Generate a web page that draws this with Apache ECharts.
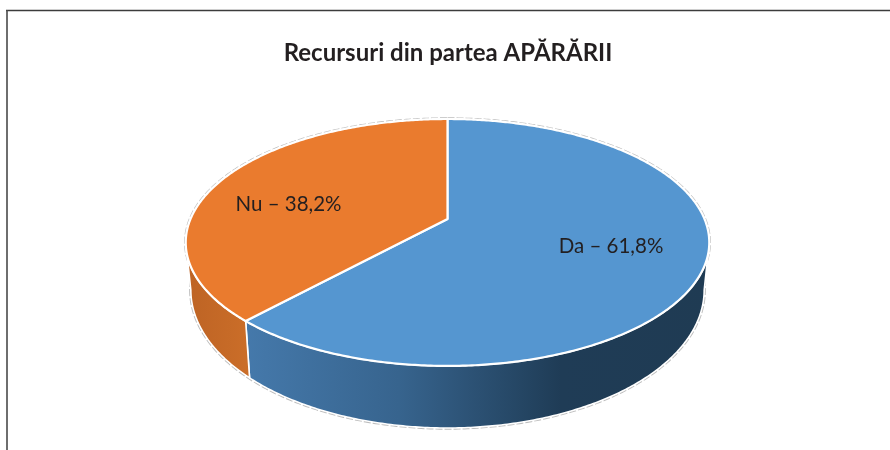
<!DOCTYPE html>
<html>
<head>
<meta charset="utf-8">
<style>html,body{margin:0;padding:0;background:#fff}#c{width:890px;height:450px}</style>
<script src="https://cdn.jsdelivr.net/npm/echarts@6/dist/echarts.min.js"></script>
</head>
<body>
<div id="c"></div>
<script>
const titleText = 'Recursuri din partea APĂRĂRII';
const categories = ['Da', 'Nu'];
const values = [61.8, 38.2];
const valueLabels = ['Da – 61,8%', 'Nu – 38,2%'];

/* layout and style */
const FONT = 'Lato, "Open Sans", "Noto Sans", sans-serif';
const TOP_PLANE = {cx: 447.5, cy: 219, a: 257, b: 119};
const BOTTOM_PLANE = {cx: 447.5, cy: 263.8, a: 252, b: 133};
const K = 0.19;
const LABEL_POS = [[611, 246], [288.5, 204]];
const FACE = ['#5596d0', '#ea7b2e'];
const WALL = [
  [{offset: 0, color: '#4579ab'}, {offset: 0.33, color: '#37648e'}, {offset: 0.68, color: '#1f3c56'}, {offset: 1, color: '#1f3b53'}],
  [{offset: 0, color: '#bd6324'}, {offset: 1, color: '#cb6e29'}]
];

const total = values.reduce((s, x) => s + x, 0);
function spanOf(i) {
  let sum = 0;
  for (let j = 0; j < i; j++) sum += values[j];
  return [sum / total * Math.PI * 2, (sum + values[i]) / total * Math.PI * 2];
}
function project(plane, t) {
  const u = Math.sin(t), v = -Math.cos(t), w = 1 - K * v;
  return [plane.cx + plane.a * u / w, plane.cy + plane.b * v / w];
}
function arc(plane, t0, t1) {
  const n = Math.max(2, Math.ceil(Math.abs(t1 - t0) / 0.01));
  const pts = [];
  for (let i = 0; i <= n; i++) pts.push(project(plane, t0 + (t1 - t0) * i / n));
  return pts;
}
function outline(plane) {
  return {
    type: 'polygon',
    shape: {points: arc(plane, 0, Math.PI * 2)},
    style: {fill: '#fff', stroke: '#bdbdbd', lineWidth: 3.4, lineDash: [7, 2]},
    silent: true
  };
}
function renderHalo(params) {
  if (params.dataIndex !== 0) return {type: 'group', children: []};
  return {type: 'group', children: [outline(BOTTOM_PLANE), outline(TOP_PLANE)]};
}
function renderWall(params, api) {
  const i = params.dataIndex;
  const span = spanOf(i);
  // the visible rim runs between the widest points of the perspective ellipse
  const edge = Math.acos(-K);
  const t0 = Math.max(span[0], edge);
  const t1 = Math.min(span[1], Math.PI * 2 - edge);
  const pts = arc(TOP_PLANE, t0, t1).concat(arc(BOTTOM_PLANE, t1, t0));
  return {
    type: 'polygon',
    shape: {points: pts},
    style: {
      fill: {type: 'linear', x: 0, y: 0, x2: 1, y2: 0, colorStops: WALL[i]},
      stroke: '#fff', lineWidth: 1.6, lineJoin: 'round'
    },
    silent: true
  };
}
function renderFace(params, api) {
  const i = params.dataIndex;
  const span = spanOf(i);
  const pts = [[TOP_PLANE.cx, TOP_PLANE.cy]].concat(arc(TOP_PLANE, span[0], span[1]));
  return {
    type: 'group',
    children: [
      {
        type: 'polygon',
        shape: {points: pts},
        style: {fill: FACE[i], stroke: '#fff', lineWidth: 2.2, lineJoin: 'round'},
        silent: true
      },
      {
        type: 'text',
        z2: 10,
        style: {
          x: LABEL_POS[i][0], y: LABEL_POS[i][1],
          text: valueLabels[i],
          font: '400 20.5px ' + FONT,
          fill: '#231f20', align: 'center', verticalAlign: 'middle'
        },
        silent: true
      }
    ]
  };
}
const seriesData = categories.map((c, i) => ({name: c, value: values[i]}));
const chart = echarts.init(document.getElementById('c'), null, {renderer: 'canvas'});
chart.setOption({
  animation: false,
  backgroundColor: '#fff',
  title: {
    text: titleText, left: 443, top: 36, textAlign: 'center',
    textStyle: {fontFamily: FONT, fontSize: 24, fontWeight: 700, color: '#231f20'}
  },
  tooltip: {show: false},
  graphic: [
    {type: 'line', shape: {x1: 6, y1: 10.5, x2: 890, y2: 10.5}, style: {stroke: '#3c3c3c', lineWidth: 1.6}, silent: true},
    {type: 'line', shape: {x1: 7, y1: 10, x2: 7, y2: 450}, style: {stroke: '#4a4a4a', lineWidth: 1.6}, silent: true}
  ],
  series: [
    {type: 'custom', coordinateSystem: 'none', z: 2, renderItem: renderHalo, data: seriesData},
    {type: 'custom', coordinateSystem: 'none', z: 3, renderItem: renderWall, data: seriesData},
    {type: 'custom', coordinateSystem: 'none', z: 4, renderItem: renderFace, data: seriesData}
  ]
});
</script>
</body>
</html>
